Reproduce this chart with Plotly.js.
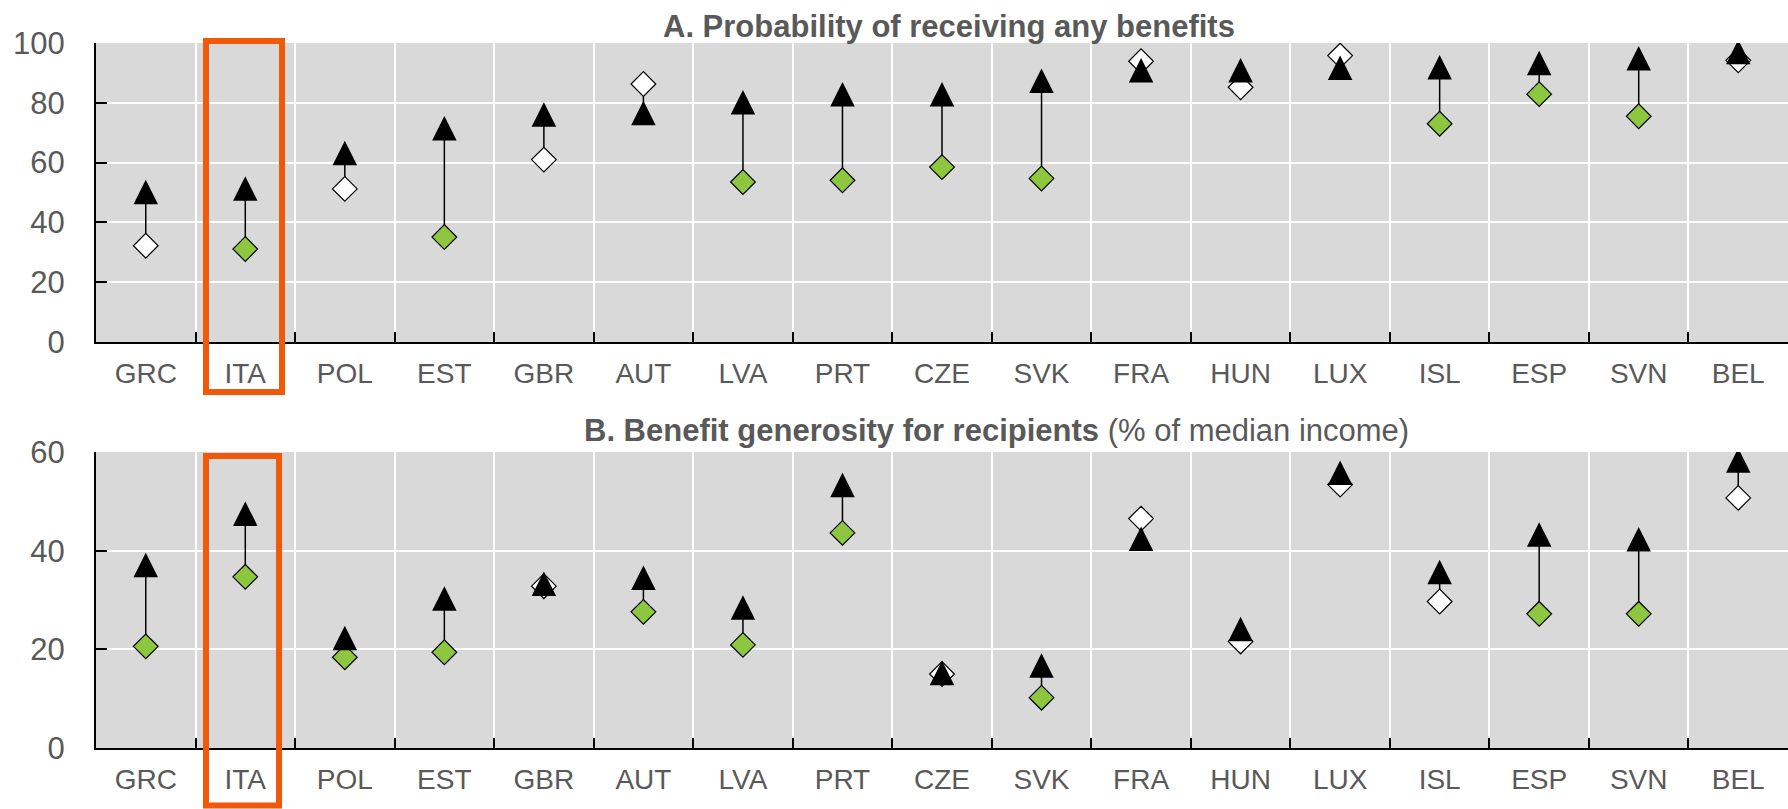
<!DOCTYPE html>
<html>
<head>
<meta charset="utf-8">
<script src="https://cdn.plot.ly/plotly-3.0.1.min.js"></script>
<style>
  html, body { margin: 0; padding: 0; background: #ffffff; }
  #chart { width: 1788px; height: 809px; }
</style>
</head>
<body>
<div id="chart"></div>
<script>
// ---------- DATA ----------
const categories = ['GRC','ITA','POL','EST','GBR','AUT','LVA','PRT','CZE','SVK','FRA','HUN','LUX','ISL','ESP','SVN','BEL'];

// Panel A: Probability of receiving any benefits
const triangleA = [50.2, 51.3, 63.2, 71.5, 76.1, 76.6, 80.2, 82.9, 82.9, 87.4, 90.9, 90.9, 91.7, 91.9, 93.3, 94.9, 97.0];
const diamondA  = [32.2, 31.1, 51.2, 35.1, 61.0, 86.3, 53.5, 54.1, 58.5, 54.7, 93.9, 85.2, 95.8, 73.0, 82.9, 75.5, 94.2];
const greenA    = ['ITA','EST','LVA','PRT','CZE','SVK','ISL','ESP','SVN'];

// Panel B: Benefit generosity for recipients (% of median income)
const triangleB = [37.1, 47.5, 22.3, 30.3, 33.3, 34.5, 28.5, 53.3, 15.2, 16.7, 42.4, 24.1, 55.8, 35.7, 43.3, 42.3, 58.3];
const diamondB  = [20.6, 34.7, 18.4, 19.4, 32.8, 27.6, 20.9, 43.6, 15.0, 10.2, 46.5, 21.6, 53.4, 29.7, 27.2, 27.2, 50.7];
const greenB    = ['GRC','ITA','POL','EST','AUT','LVA','PRT','SVK','ESP','SVN'];

const highlighted = 'ITA';
const titleA = '<b>A. Probability of receiving any benefits</b>';
const titleB = '<b>B. Benefit generosity for recipients</b> (% of median income)';

// ---------- STYLE ----------
const FONT = "'Liberation Sans', Arial, sans-serif";
const TXT = '#595959';
const GREEN = '#8DC63F';
const ORANGE = '#F0580A';
const W = 1788, H = 809;
const M = {l: 96, r: 0, t: 43, b: 61};
const plotH = H - M.t - M.b;            // 705
const topPx = [43, 342], botPx = [452, 748];
const dom = px => (H - M.b - px) / plotH;
const domA = [dom(topPx[1]), 1];
const domB = [0, dom(botPx[0])];
const rangeA = [0, 100], rangeB = [0, 60];

const TRI_SIZE = 24.5, DIA_SIZE = 19;
// 'arrow-up' has its tip on the data point and is TRI_SIZE tall; shift so its box is centred on the value
const triOffPx = TRI_SIZE / 2;
const offA = triOffPx * (rangeA[1]-rangeA[0]) / (topPx[1]-topPx[0]);
const offB = triOffPx * (rangeB[1]-rangeB[0]) / (botPx[1]-botPx[0]);

function connectors(lo, hi) {
  const xs = [], ys = [];
  categories.forEach((c, i) => { xs.push(c, c, null); ys.push(lo[i], hi[i], null); });
  return {xs, ys};
}

function panelTraces(tri, dia, greens, xa, ya, yaTri) {
  const con = connectors(dia, tri);
  return [
    {type: 'scatter', mode: 'lines', x: con.xs, y: con.ys, xaxis: xa, yaxis: ya,
     line: {color: '#000000', width: 1.5}, hoverinfo: 'skip', showlegend: false, connectgaps: false},
    {type: 'scatter', mode: 'markers', x: categories, y: tri, xaxis: xa, yaxis: yaTri,
     marker: {symbol: 'arrow-up', size: TRI_SIZE, color: '#000000', line: {width: 0}},
     hoverinfo: 'skip', showlegend: false},
    {type: 'scatter', mode: 'markers', x: categories, y: dia, xaxis: xa, yaxis: ya,
     marker: {symbol: 'diamond', size: DIA_SIZE,
              color: categories.map(c => greens.includes(c) ? GREEN : '#FFFFFF'),
              line: {color: '#000000', width: 1.2}},
     hoverinfo: 'skip', showlegend: false}
  ];
}

const data = [
  ...panelTraces(triangleA, diamondA, greenA, 'x', 'y', 'y3'),
  ...panelTraces(triangleB, diamondB, greenB, 'x2', 'y2', 'y4')
];

const xBase = {
  type: 'category', categoryorder: 'array', categoryarray: categories,
  range: [-0.5, categories.length - 0.5], tickson: 'boundaries',
  showgrid: true, gridcolor: '#FFFFFF', gridwidth: 2,
  ticks: 'inside', ticklen: 10, tickwidth: 2, tickcolor: '#000000',
  showline: true, linecolor: '#000000', linewidth: 2,
  tickfont: {family: FONT, size: 28, color: TXT}, ticklabelstandoff: 5,
  zeroline: false, fixedrange: true
};
const yBase = {
  dtick: 20, showgrid: true, gridcolor: '#FFFFFF', gridwidth: 2,
  ticks: 'inside', ticklen: 11, tickwidth: 2, tickcolor: '#000000',
  showline: true, linecolor: '#000000', linewidth: 2,
  tickfont: {family: FONT, size: 31, color: TXT}, ticklabelstandoff: 23,
  zeroline: false, fixedrange: true
};

const idx = categories.indexOf(highlighted);

const layout = {
  width: W, height: H,
  margin: M,
  paper_bgcolor: '#FFFFFF', plot_bgcolor: '#D9D9D9',
  showlegend: false,
  font: {family: FONT, color: TXT},
  xaxis:  Object.assign({}, xBase, {anchor: 'y'}),
  xaxis2: Object.assign({}, xBase, {anchor: 'y2'}),
  yaxis:  Object.assign({}, yBase, {domain: domA, range: rangeA, anchor: 'x'}),
  yaxis2: Object.assign({}, yBase, {domain: domB, range: rangeB, anchor: 'x2'}),
  yaxis3: {overlaying: 'y', range: [rangeA[0] - offA, rangeA[1] - offA], visible: false, fixedrange: true},
  yaxis4: {overlaying: 'y2', range: [rangeB[0] - offB, rangeB[1] - offB], visible: false, fixedrange: true},
  annotations: [
    {text: titleA, xref: 'paper', yref: 'paper', x: 0.504, y: 1.0234, xanchor: 'center', yanchor: 'middle',
     showarrow: false, font: {family: FONT, size: 31, color: TXT}},
    {text: titleB, xref: 'paper', yref: 'paper', x: 0.5325, y: 0.4504, xanchor: 'center', yanchor: 'middle',
     showarrow: false, font: {family: FONT, size: 31, color: TXT}}
  ],
  shapes: [
    {type: 'rect', xref: 'x', yref: 'paper', x0: idx - 0.395, x1: idx + 0.369, y0: 0.505, y1: 1.0028,
     line: {color: ORANGE, width: 6}, fillcolor: 'rgba(0,0,0,0)'},
    {type: 'rect', xref: 'x2', yref: 'paper', x0: idx - 0.395, x1: idx + 0.339, y0: -0.0816, y1: 0.4142,
     line: {color: ORANGE, width: 6}, fillcolor: 'rgba(0,0,0,0)'}
  ]
};

Plotly.newPlot('chart', data, layout, {staticPlot: true, displayModeBar: false});
</script>
</body>
</html>
